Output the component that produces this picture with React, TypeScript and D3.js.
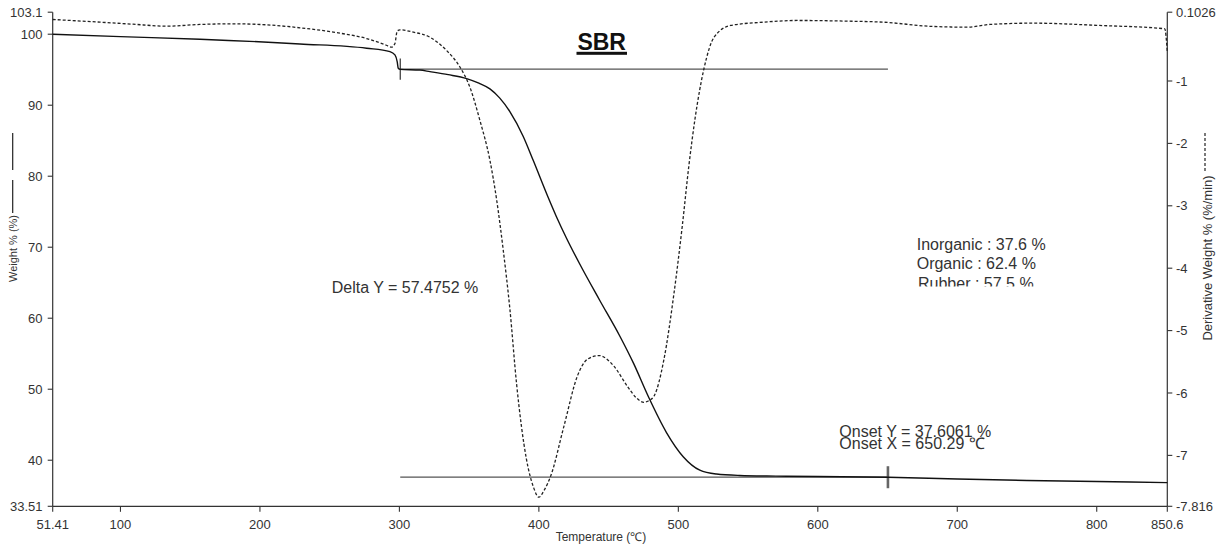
import React from "react";
import * as d3 from "d3";

// ---------- data ----------
const xTicks = [51.41, 100, 200, 300, 400, 500, 600, 700, 800, 850.6];
const xTickLabels = ["51.41", "100", "200", "300", "400", "500", "600", "700", "800", "850.6"];
const leftTicks = [33.51, 40, 50, 60, 70, 80, 90, 100, 103.1];
const leftTickLabels = ["33.51", "40", "50", "60", "70", "80", "90", "100", "103.1"];
const rightTicks = [-7.816, -7, -6, -5, -4, -3, -2, -1, 0.1026];
const rightTickLabels = ["-7.816", "-7", "-6", "-5", "-4", "-3", "-2", "-1", "0.1026"];

// Weight % vs temperature
const weightT = [51.41, 100, 157, 228.7, 276.5, 293.2, 296.8, 298.4, 299.2, 300.5, 314.7, 321.9, 335, 348.2, 357, 364.9, 372, 379.2, 388.8, 396, 406.7, 412.6, 420, 429.4, 443.7, 458, 468, 478.4, 491.5, 503.5, 515.4, 527.4, 544, 570, 600, 650.29, 700, 750, 800, 850.6];
const weightW = [100, 99.66, 99.3, 98.63, 98.03, 97.55, 97.08, 96.14, 95.2, 95.05, 94.95, 94.73, 94.3, 93.75, 93.1, 92.3, 91.0, 89.1, 85.6, 82.2, 77.0, 74.3, 71.2, 67.6, 62.5, 57.5, 53.6, 49.0, 43.9, 40.5, 38.6, 38.05, 37.85, 37.76, 37.7, 37.6, 37.35, 37.15, 37.0, 36.85];

// Derivative weight % (%/min) vs temperature
const derivT = [51.41, 85.3, 109, 133, 157, 180.9, 204.8, 228.7, 252.6, 276.5, 290, 294.4, 296.8, 298.4, 300.4, 310, 322, 333.8, 343.4, 350.5, 357.7, 364.9, 369.7, 374.4, 379.2, 384, 391, 396, 400, 404, 408.5, 418, 427.6, 434.8, 443, 453.8, 463.4, 470, 475.3, 479, 482.6, 489.7, 496.9, 502.8, 507.6, 512, 518.4, 525.6, 537.5, 561.3, 585.3, 620, 646.8, 682.6, 706.5, 723.3, 754, 802, 848.8, 850.6];
const derivD = [-0.014, -0.057, -0.09, -0.121, -0.094, -0.083, -0.1, -0.147, -0.217, -0.32, -0.42, -0.457, -0.4, -0.2, -0.18, -0.217, -0.3, -0.51, -0.776, -1.096, -1.63, -2.27, -2.9, -3.7, -4.65, -5.85, -7.05, -7.5, -7.67, -7.55, -7.33, -6.53, -5.73, -5.46, -5.4, -5.57, -5.89, -6.08, -6.15, -6.12, -6.05, -5.46, -4.4, -3.33, -2.35, -1.6, -0.8, -0.3, -0.11, -0.057, -0.03, -0.04, -0.057, -0.126, -0.137, -0.094, -0.073, -0.11, -0.163, -0.54];

// Analysis markers
const onsetStartT = 300.6;
const onsetEndT = 650.29;
const upperLevel = 95.0813;
const lowerLevel = 37.6061;

const FONT = "'Liberation Sans', Arial, Helvetica, sans-serif";

export default function App() {
  const x = d3.scaleLinear().domain([51.41, 850.6]).range([52.7, 1167.3]);
  const yL = d3.scaleLinear().domain([33.51, 103.1]).range([506.3, 12.2]);
  const yR = d3.scaleLinear().domain([-7.816, 0.1026]).range([506.3, 12.2]);

  const weightPts: [number, number][] = weightT.map((t, i) => [t, weightW[i]]);
  const derivPts: [number, number][] = derivT.map((t, i) => [t, derivD[i]]);

  const wLine = d3
    .line<[number, number]>()
    .x((d) => x(d[0]))
    .y((d) => yL(d[1]))
    .curve(d3.curveMonotoneX);
  const dLine = d3
    .line<[number, number]>()
    .x((d) => x(d[0]))
    .y((d) => yR(d[1]))
    .curve(d3.curveMonotoneX);

  const x0 = x.range()[0];
  const x1 = x.range()[1];
  const yTop = yL.range()[1];
  const yBot = yL.range()[0];
  const axisColor = "#333";
  const textColor = "#333";

  return (
    <svg
      width={1225}
      height={551}
      style={{ position: "absolute", left: 0, top: 0, background: "#fff" }}
      fontFamily={FONT}
    >
      <defs>
        <clipPath id="rubberClip">
          <rect x={880} y={270} width={200} height={16.5} />
        </clipPath>
      </defs>
      <rect width={1225} height={551} fill="#fff" />

      {/* axes */}
      <line x1={x0} y1={yTop} x2={x0} y2={yBot} stroke={axisColor} strokeWidth={1.2} />
      <line x1={x1} y1={yTop} x2={x1} y2={yBot} stroke={axisColor} strokeWidth={1.2} />
      <line x1={x0} y1={yBot} x2={x1} y2={yBot} stroke={axisColor} strokeWidth={1.2} />

      {xTicks.map((t, i) => (
        <g key={"xt" + i}>
          <line x1={x(t)} x2={x(t)} y1={yBot} y2={yBot + 5.5} stroke={axisColor} strokeWidth={1.1} />
          <text x={x(t)} y={528.5} fontSize={13} textAnchor="middle" fill={textColor}>
            {xTickLabels[i]}
          </text>
        </g>
      ))}
      {leftTicks.map((t, i) => (
        <g key={"lt" + i}>
          <line x1={x0 - 5} x2={x0} y1={yL(t)} y2={yL(t)} stroke={axisColor} strokeWidth={1.1} />
          <text x={42.5} y={yL(t)} dy="0.36em" fontSize={13} textAnchor="end" fill={textColor}>
            {leftTickLabels[i]}
          </text>
        </g>
      ))}
      {rightTicks.map((t, i) => (
        <g key={"rt" + i}>
          <line x1={x1} x2={x1 + 5} y1={yR(t)} y2={yR(t)} stroke={axisColor} strokeWidth={1.1} />
          <text x={1176} y={yR(t)} dy="0.36em" fontSize={13} textAnchor="start" fill={textColor}>
            {rightTickLabels[i]}
          </text>
        </g>
      ))}

      {/* axis titles */}
      <line x1={12.7} x2={12.7} y1={133} y2={170} stroke="#222" strokeWidth={1.2} />
      <line x1={12.7} x2={12.7} y1={180} y2={213} stroke="#222" strokeWidth={1.2} />
      <text
        transform="translate(17,248.5) rotate(-90)"
        fontSize={11}
        textAnchor="middle"
        fill={textColor}
      >
        Weight % (%)
      </text>
      <line x1={1205} x2={1205} y1={133} y2={173} stroke="#222" strokeWidth={1.2} strokeDasharray="3,2" />
      <text
        transform="translate(1211.5,258) rotate(-90)"
        fontSize={13}
        textAnchor="middle"
        fill={textColor}
      >
        Derivative Weight % (%/min)
      </text>
      <text x={601} y={541} fontSize={12} textAnchor="middle" fill={textColor}>
        Temperature (℃)
      </text>

      {/* analysis lines */}
      <line x1={x(onsetStartT)} x2={x(onsetEndT)} y1={yL(upperLevel)} y2={yL(upperLevel)} stroke="#555" strokeWidth={1.2} />
      <line x1={x(onsetStartT)} x2={x(onsetEndT)} y1={yL(lowerLevel)} y2={yL(lowerLevel)} stroke="#555" strokeWidth={1.2} />
      <line x1={x(onsetStartT)} x2={x(onsetStartT)} y1={yL(upperLevel + 1.5)} y2={yL(upperLevel - 1.5)} stroke="#222" strokeWidth={1.1} />
      <line x1={x(onsetEndT)} x2={x(onsetEndT)} y1={yL(lowerLevel + 1.55)} y2={yL(lowerLevel - 1.55)} stroke="#666" strokeWidth={2.6} />

      {/* curves */}
      <path d={dLine(derivPts) || ""} fill="none" stroke="#222" strokeWidth={1.3} strokeDasharray="3,2" />
      <path d={wLine(weightPts) || ""} fill="none" stroke="#111" strokeWidth={1.4} />

      {/* annotations */}
      <text x={601.7} y={50} fontSize={23} fontWeight="bold" textAnchor="middle" fill="#111">
        SBR
      </text>
      <rect x={576.5} y={51.8} width={50.5} height={3} fill="#111" />

      <text x={331.7} y={293.3} fontSize={16} fill={textColor}>
        Delta Y = 57.4752 %
      </text>
      <text x={839.3} y={436.7} fontSize={16} fill={textColor}>
        Onset Y = 37.6061 %
      </text>
      <text x={839.3} y={449.3} fontSize={16} fill={textColor}>
        Onset X = 650.29 ℃
      </text>
      <text x={916.7} y={250} fontSize={16} fill={textColor}>
        Inorganic : 37.6 %
      </text>
      <text x={916.7} y={269.3} fontSize={16} fill={textColor}>
        Organic : 62.4 %
      </text>
      <g clipPath="url(#rubberClip)">
        <text x={918} y={288.5} fontSize={16} fill={textColor}>
          Rubber : 57.5 %
        </text>
      </g>
    </svg>
  );
}
